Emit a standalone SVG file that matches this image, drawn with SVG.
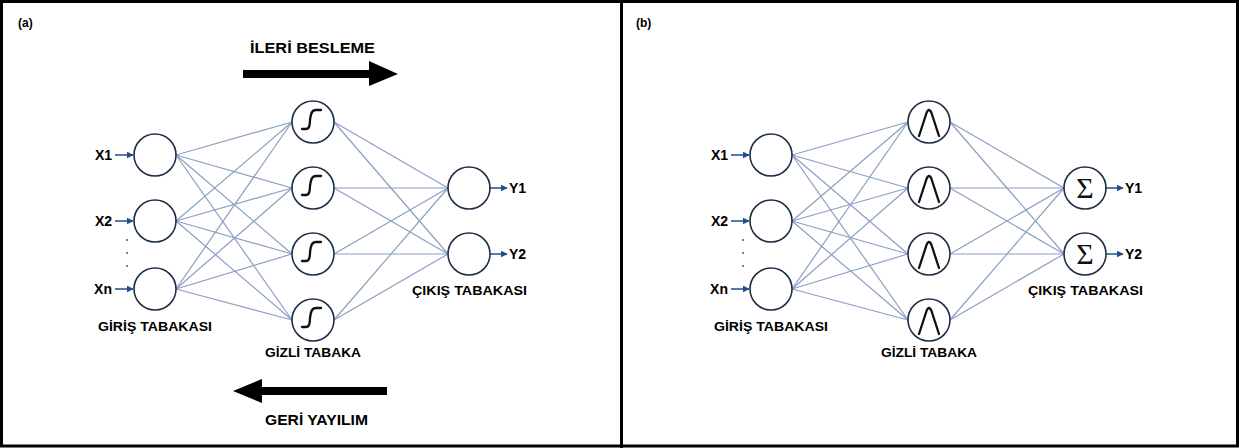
<svg xmlns="http://www.w3.org/2000/svg" width="1239" height="448" viewBox="0 0 1239 448">
  <style>
    .lbl { font-family: "Liberation Sans", Arial, sans-serif; font-weight: bold; fill: #000; }
    .node { fill: #fff; stroke: #1d2f45; stroke-width: 1.6; }
    .edge { stroke: #8a9fc2; stroke-width: 1.2; fill: none; }
    .io { stroke: #1f4e8c; stroke-width: 1.5; fill: none; }
    .glyph { stroke: #111; stroke-width: 2.3; fill: none; stroke-linecap: round; stroke-linejoin: round; }
    .sigma { font-family: "Liberation Serif", "Times New Roman", serif; fill: #111; }
    .dot { fill: #555; }
  </style>
  <defs>
    <marker id="tip" viewBox="0 0 10 10" refX="9" refY="5" markerWidth="7" markerHeight="7" orient="auto" markerUnits="userSpaceOnUse">
      <path d="M0,0 L10,5 L0,10 z" fill="#1f4e8c"/>
    </marker>
    <!-- sigmoid activation glyph -->
    <path id="sig" class="glyph" d="M-11,7 H-7 C-4,7 -3,4 -3,-2 C-2,-9 -1,-12 3,-12 H8"/>
    <!-- radial basis (bell) glyph -->
    <path id="bell" class="glyph" d="M-10,14 L-2.5,-9 Q0,-15 2.5,-9 L10,14"/>
  </defs>

  <rect x="0" y="0" width="1239" height="448" fill="#fff"/>

  <!-- frame and divider -->
  <rect x="1.5" y="1.5" width="1236" height="444.5" fill="none" stroke="#000" stroke-width="3"/>
  <line x1="621.5" y1="0" x2="621.5" y2="448" stroke="#000" stroke-width="3"/>

  <!-- ===== Panel (a) ===== -->
  <g id="connectors-a">
    <g class="edge">
      <line x1="176" y1="155" x2="292" y2="122"/><line x1="176" y1="155" x2="292" y2="188"/><line x1="176" y1="155" x2="292" y2="254"/><line x1="176" y1="155" x2="292" y2="320"/>
      <line x1="176" y1="221" x2="292" y2="122"/><line x1="176" y1="221" x2="292" y2="188"/><line x1="176" y1="221" x2="292" y2="254"/><line x1="176" y1="221" x2="292" y2="320"/>
      <line x1="176" y1="289" x2="292" y2="122"/><line x1="176" y1="289" x2="292" y2="188"/><line x1="176" y1="289" x2="292" y2="254"/><line x1="176" y1="289" x2="292" y2="320"/>
      <line x1="334" y1="122" x2="448" y2="188"/><line x1="334" y1="122" x2="448" y2="254"/>
      <line x1="334" y1="188" x2="448" y2="188"/><line x1="334" y1="188" x2="448" y2="254"/>
      <line x1="334" y1="254" x2="448" y2="188"/><line x1="334" y1="254" x2="448" y2="254"/>
      <line x1="334" y1="320" x2="448" y2="188"/><line x1="334" y1="320" x2="448" y2="254"/>
    </g>
    <g class="io">
      <line x1="115" y1="155" x2="133" y2="155" marker-end="url(#tip)"/>
      <line x1="115" y1="221" x2="133" y2="221" marker-end="url(#tip)"/>
      <line x1="115" y1="289" x2="133" y2="289" marker-end="url(#tip)"/>
      <line x1="490" y1="188" x2="507" y2="188" marker-end="url(#tip)"/>
      <line x1="490" y1="254" x2="507" y2="254" marker-end="url(#tip)"/>
    </g>
  </g>

  <g id="input-a">
    <circle class="node" cx="155" cy="155" r="21"/>
    <circle class="node" cx="155" cy="221" r="21"/>
    <circle class="node" cx="155" cy="289" r="21"/>
    <text class="lbl" x="112" y="160" font-size="14" text-anchor="end">X1</text>
    <text class="lbl" x="112" y="226" font-size="14" text-anchor="end">X2</text>
    <text class="lbl" x="112" y="294" font-size="14" text-anchor="end">Xn</text>
    <circle class="dot" cx="127" cy="240" r="1"/>
    <circle class="dot" cx="127" cy="253" r="1"/>
    <circle class="dot" cx="127" cy="266" r="1"/>
    <text class="lbl" x="98" y="331" font-size="13.5" textLength="114" lengthAdjust="spacingAndGlyphs">GİRİŞ TABAKASI</text>
  </g>

  <g id="hidden-a">
    <circle class="node" cx="313" cy="122" r="21"/>
    <circle class="node" cx="313" cy="188" r="21"/>
    <circle class="node" cx="313" cy="254" r="21"/>
    <circle class="node" cx="313" cy="320" r="21"/>
    <use href="#sig" x="313" y="122"/>
    <use href="#sig" x="313" y="188"/>
    <use href="#sig" x="313" y="254"/>
    <use href="#sig" x="313" y="320"/>
    <text class="lbl" x="265" y="357" font-size="13.5" textLength="96" lengthAdjust="spacingAndGlyphs">GİZLİ TABAKA</text>
  </g>

  <g id="output-a">
    <circle class="node" cx="469" cy="188" r="21"/>
    <circle class="node" cx="469" cy="254" r="21"/>
    <text class="lbl" x="509" y="193" font-size="14">Y1</text>
    <text class="lbl" x="509" y="259" font-size="14">Y2</text>
    <text class="lbl" x="412" y="295" font-size="13.5" textLength="115" lengthAdjust="spacingAndGlyphs">ÇIKIŞ TABAKASI</text>
  </g>

  <g id="direction-a">
    <text class="lbl" x="18" y="27" font-size="12">(a)</text>
    <text class="lbl" x="250" y="53" font-size="14.5" textLength="125" lengthAdjust="spacingAndGlyphs">İLERİ BESLEME</text>
    <path d="M243,70 H369 V61 L398,74 L369,86 V78 H243 z" fill="#000"/>
    <path d="M387,387 H262 V379 L233,391 L262,403 V395 H387 z" fill="#000"/>
    <text class="lbl" x="265" y="425" font-size="14.5" textLength="103" lengthAdjust="spacingAndGlyphs">GERİ YAYILIM</text>
  </g>

  <!-- ===== Panel (b) ===== -->
  <g id="connectors-b" transform="translate(616,0)">
    <g class="edge">
      <line x1="176" y1="155" x2="292" y2="122"/><line x1="176" y1="155" x2="292" y2="188"/><line x1="176" y1="155" x2="292" y2="254"/><line x1="176" y1="155" x2="292" y2="320"/>
      <line x1="176" y1="221" x2="292" y2="122"/><line x1="176" y1="221" x2="292" y2="188"/><line x1="176" y1="221" x2="292" y2="254"/><line x1="176" y1="221" x2="292" y2="320"/>
      <line x1="176" y1="289" x2="292" y2="122"/><line x1="176" y1="289" x2="292" y2="188"/><line x1="176" y1="289" x2="292" y2="254"/><line x1="176" y1="289" x2="292" y2="320"/>
      <line x1="334" y1="122" x2="448" y2="188"/><line x1="334" y1="122" x2="448" y2="254"/>
      <line x1="334" y1="188" x2="448" y2="188"/><line x1="334" y1="188" x2="448" y2="254"/>
      <line x1="334" y1="254" x2="448" y2="188"/><line x1="334" y1="254" x2="448" y2="254"/>
      <line x1="334" y1="320" x2="448" y2="188"/><line x1="334" y1="320" x2="448" y2="254"/>
    </g>
    <g class="io">
      <line x1="115" y1="155" x2="133" y2="155" marker-end="url(#tip)"/>
      <line x1="115" y1="221" x2="133" y2="221" marker-end="url(#tip)"/>
      <line x1="115" y1="289" x2="133" y2="289" marker-end="url(#tip)"/>
      <line x1="490" y1="188" x2="507" y2="188" marker-end="url(#tip)"/>
      <line x1="490" y1="254" x2="507" y2="254" marker-end="url(#tip)"/>
    </g>
  </g>

  <g id="input-b" transform="translate(616,0)">
    <circle class="node" cx="155" cy="155" r="21"/>
    <circle class="node" cx="155" cy="221" r="21"/>
    <circle class="node" cx="155" cy="289" r="21"/>
    <text class="lbl" x="112" y="160" font-size="14" text-anchor="end">X1</text>
    <text class="lbl" x="112" y="226" font-size="14" text-anchor="end">X2</text>
    <text class="lbl" x="112" y="294" font-size="14" text-anchor="end">Xn</text>
    <circle class="dot" cx="127" cy="240" r="1"/>
    <circle class="dot" cx="127" cy="253" r="1"/>
    <circle class="dot" cx="127" cy="266" r="1"/>
    <text class="lbl" x="98" y="331" font-size="13.5" textLength="114" lengthAdjust="spacingAndGlyphs">GİRİŞ TABAKASI</text>
  </g>

  <g id="hidden-b" transform="translate(616,0)">
    <circle class="node" cx="313" cy="122" r="21"/>
    <circle class="node" cx="313" cy="188" r="21"/>
    <circle class="node" cx="313" cy="254" r="21"/>
    <circle class="node" cx="313" cy="320" r="21"/>
    <use href="#bell" x="313" y="122"/>
    <use href="#bell" x="313" y="188"/>
    <use href="#bell" x="313" y="254"/>
    <use href="#bell" x="313" y="320"/>
    <text class="lbl" x="265" y="357" font-size="13.5" textLength="96" lengthAdjust="spacingAndGlyphs">GİZLİ TABAKA</text>
  </g>

  <g id="output-b" transform="translate(616,0)">
    <circle class="node" cx="469" cy="188" r="21"/>
    <circle class="node" cx="469" cy="254" r="21"/>
    <text class="sigma" x="469" y="198" font-size="30" text-anchor="middle">Σ</text>
    <text class="sigma" x="469" y="264" font-size="30" text-anchor="middle">Σ</text>
    <text class="lbl" x="509" y="193" font-size="14">Y1</text>
    <text class="lbl" x="509" y="259" font-size="14">Y2</text>
    <text class="lbl" x="412" y="295" font-size="13.5" textLength="115" lengthAdjust="spacingAndGlyphs">ÇIKIŞ TABAKASI</text>
  </g>

  <text class="lbl" x="636" y="27" font-size="12">(b)</text>
</svg>
